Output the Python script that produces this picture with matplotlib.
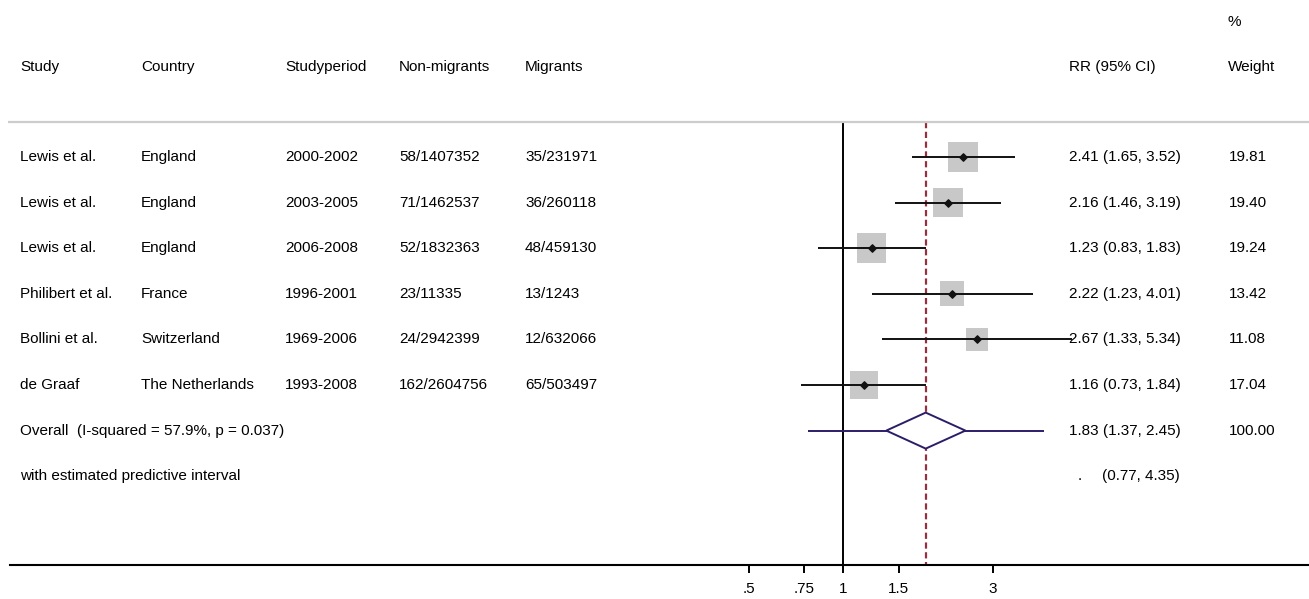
import numpy as np
import matplotlib
matplotlib.use("Agg")
import matplotlib.pyplot as plt

plt.rcParams["font.family"] = ["Liberation Sans", "DejaVu Sans"]

studies = ["Lewis et al.", "Lewis et al.", "Lewis et al.", "Philibert et al.", "Bollini et al.", "de Graaf"]
countries = ["England", "England", "England", "France", "Switzerland", "The Netherlands"]
periods = ["2000-2002", "2003-2005", "2006-2008", "1996-2001", "1969-2006", "1993-2008"]
non_migrants = ["58/1407352", "71/1462537", "52/1832363", "23/11335", "24/2942399", "162/2604756"]
migrants = ["35/231971", "36/260118", "48/459130", "13/1243", "12/632066", "65/503497"]
rr = [2.41, 2.16, 1.23, 2.22, 2.67, 1.16]
lo = [1.65, 1.46, 0.83, 1.23, 1.33, 0.73]
hi = [3.52, 3.19, 1.83, 4.01, 5.34, 1.84]
weight = [19.81, 19.40, 19.24, 13.42, 11.08, 17.04]

overall = 1.83
overall_lo, overall_hi = 1.37, 2.45
pred_lo, pred_hi = 0.77, 4.35
overall_label = "Overall  (I-squared = 57.9%, p = 0.037)"
pred_label = "with estimated predictive interval"

ticks = [0.5, 0.75, 1, 1.5, 3]
tick_labels = [".5", ".75", "1", "1.5", "3"]

W, H = 1309, 599
fig = plt.figure(figsize=(W / 100, H / 100), dpi=100)
ax = fig.add_axes([0, 0, 1, 1])
ax.set_xscale("log")

# pixel layout: x=1 sits at 843 px, 136.2 px per log unit; rows every 45.6 px from 157 px
x0, scale = 843.4, 136.2
ax.set_xlim(np.exp(-x0 / scale), np.exp((W - x0) / scale))
row0, step = 157, 45.6
ax.set_ylim((H - row0) / step, -row0 / step)

def py(px):
    return (px - row0) / step

def fx(px):
    return px / W

tr = ax.get_yaxis_transform()
fs = 11

# header
cols = [(20, "Study"), (141, "Country"), (285, "Studyperiod"), (399, "Non-migrants"),
        (525, "Migrants"), (1069, "RR (95% CI)"), (1228, "Weight")]
for x, t in cols:
    ax.text(fx(x), py(67), t, transform=tr, fontsize=fs, va="center", ha="left")
ax.text(fx(1228), py(22), "%", transform=tr, fontsize=fs, va="center", ha="left")

ax.plot([fx(8), 1], [py(122), py(122)], transform=tr, color="#cccccc", lw=1.6,
        solid_capstyle="butt")

rows = np.arange(len(studies))
for i in rows:
    for x, t in [(20, studies[i]), (141, countries[i]), (285, periods[i]),
                 (399, non_migrants[i]), (525, migrants[i]),
                 (1069, f"{rr[i]:.2f} ({lo[i]:.2f}, {hi[i]:.2f})"), (1229, f"{weight[i]:.2f}")]:
        ax.text(fx(x), i, t, transform=tr, fontsize=fs, va="center", ha="left")

# reference lines
ax.vlines(1, py(122), py(565), color="black", lw=1.4, zorder=1)
ax.vlines(overall, py(122), py(565), color="#963040", lw=1.6,
          linestyles=(0, (2.8, 1.6)), zorder=1)

# study boxes and CIs
ax.scatter(rr, rows, s=np.array(weight) * 23.5, marker="s", color="#c8c8c8",
           edgecolor="none", zorder=2)
ax.hlines(rows, lo, hi, color="#111111", lw=1.4, zorder=3)
ax.scatter(rr, rows, s=14, marker="D", color="#111111", zorder=4)

# overall
yo = len(studies)
navy = "#2c1d6a"
ax.hlines(yo, pred_lo, pred_hi, color=navy, lw=1.4, zorder=3)
dh = 18 / step
ax.fill([overall_lo, overall, overall_hi, overall, overall_lo],
        [yo, yo - dh, yo, yo + dh, yo], facecolor="white", edgecolor=navy, lw=1.4, zorder=4)
ax.text(fx(20), yo, overall_label, transform=tr, fontsize=fs, va="center", ha="left")
ax.text(fx(1069), yo, f"{overall:.2f} ({overall_lo:.2f}, {overall_hi:.2f})",
        transform=tr, fontsize=fs, va="center", ha="left")
ax.text(fx(1229), yo, "100.00", transform=tr, fontsize=fs, va="center", ha="left")

ax.text(fx(20), yo + 1, pred_label, transform=tr, fontsize=fs, va="center", ha="left")
ax.text(fx(1078), yo + 1, ".", transform=tr, fontsize=fs, va="center", ha="left")
ax.text(fx(1102), yo + 1, f"({pred_lo:.2f}, {pred_hi:.2f})", transform=tr,
        fontsize=fs, va="center", ha="left")

# axis
for s in ["top", "left", "right"]:
    ax.spines[s].set_visible(False)
ax.spines["bottom"].set_position(("data", py(565)))
ax.spines["bottom"].set_bounds(np.exp((10 - x0) / scale), np.exp((W - x0) / scale))
ax.spines["bottom"].set_linewidth(1.5)
ax.set_xticks(ticks)
ax.set_xticklabels(tick_labels)
ax.xaxis.set_minor_locator(matplotlib.ticker.NullLocator())
ax.tick_params(axis="x", direction="out", length=6, width=1.4, labelsize=fs, pad=6)
ax.set_yticks([])
ax.patch.set_visible(False)

fig.savefig("out.png", dpi=100)
